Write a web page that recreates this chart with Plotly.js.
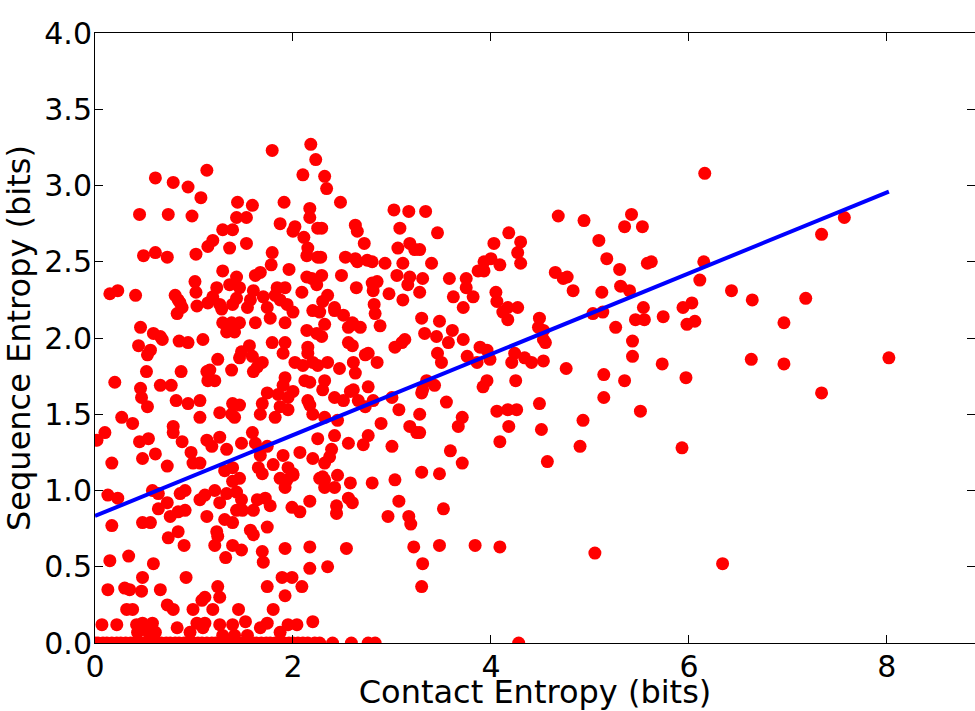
<!DOCTYPE html>
<html>
<head>
<meta charset="utf-8">
<script src="https://cdn.plot.ly/plotly-3.0.1.min.js"></script>
<style>html,body{margin:0;padding:0;background:#fff;}#chart{width:975px;height:711px;}</style>
</head>
<body>
<div id="chart"></div>
<script>
// Contact entropy (x) / sequence entropy (y), one pair per residue
const contactEntropy = [
6.16,4.68,4.94,5.42,5.35,5.53,5.09,5.17,5.58,5.62,5.30,6.15,6.11,4.65,4.73,4.77,4.83,5.12,5.31,5.40,7.57,7.34,6.43,6.64,7.18,6.96,4.49,4.53,5.03,5.13,5.54,5.46,5.55,5.74,5.94,6.03,5.98,6.06,5.26,4.53,4.55,5.43,4.53,4.76,5.43,5.73,6.63,6.96,8.02,5.14,5.35,5.97,7.34,5.14,4.49,5.51,4.93,4.51,4.90,5.93,4.57,5.05,6.34,
3.34,3.46,3.28,4.18,4.03,4.30,3.93,4.00,4.27,4.09,4.30,3.87,3.93,3.40,3.31,3.58,3.75,3.75,3.28,3.62,3.82,4.05,4.06,3.72,4.17,4.27,
4.12,4.17,4.48,3.30,3.48,3.33,3.45,3.57,3.61,3.72,3.89,3.96,3.46,3.50,3.76,3.86,3.99,4.24,4.21,4.34,4.41,3.35,3.31,3.43,3.96,3.92,4.25,3.55,3.28,3.71,3.67,4.06,4.17,4.26,4.18,3.28,4.09,3.59,3.71,3.30,3.48,
3.52,3.48,3.84,4.09,
2.45,2.32,2.42,2.32,2.58,2.80,3.03,2.17,2.44,2.56,2.60,2.44,3.07,2.96,3.17,3.19,2.17,2.54,3.22,2.17,2.35,3.31,3.30,2.20,
1.94,2.00,1.87,1.92,2.27,1.46,1.39,1.69,1.31,1.11,1.21,1.33,1.43,1.26,1.48,1.43,1.49,1.60,1.64,1.72,1.77,1.99,2.07,1.13,1.31,1.39,1.23,1.24,1.57,1.60,1.74,1.21,1.39,1.48,1.32,1.69,1.70,1.92,2.09,1.89,1.99,1.74,1.92,1.24,1.26,1.11,1.19,1.45,1.80,1.11,1.26,1.39,1.52,1.67,1.74,1.87,1.95,2.04,1.29,1.54,1.41,
0.13,0.23,0.58,0.64,0.86,0.91,0.73,0.64,0.76,0.84,0.91,1.06,0.17,0.48,0.56,0.74,0.84,0.90,0.15,0.34,0.59,0.48,0.92,0.13,0.30,0.35,0.47,0.66,0.32,0.38,0.73,0.79,0.99,1.08,0.07,0.22,0.42,0.48,0.58,0.43,0.54,0.61,0.83,0.96,1.03,1.09,
0.83,0.88,1.03,0.84,0.46,0.59,0.66,0.68,0.44,0.56,0.53,0.85,0.94,1.09,0.52,0.20,0.87,1.13,1.14,0.66,0.77,0.46,0.47,0.53,0.82,0.94,1.06,1.06,0.27,0.38,0.02,0.10,0.79,0.79,0.88,0.45,0.54,1.13,0.48,0.61,0.17,0.73,0.97,0.99,1.06,
0.61,0.79,0.94,1.07,1.13,0.45,0.74,0.98,0.49,0.61,0.73,1.02,1.14,0.15,0.23,0.41,0.81,0.86,1.01,1.02,1.14,
1.79,2.18,2.23,2.10,1.44,1.59,1.91,2.17,2.17,1.43,1.53,1.87,2.02,2.00,2.11,2.25,1.29,1.39,1.19,1.36,1.53,1.79,1.78,2.15,2.14,2.25,1.96,1.29,1.62,1.67,2.14,2.19,1.43,1.23,1.36,1.46,1.60,1.84,1.92,2.09,1.19,1.43,1.57,1.70,1.82,1.87,1.26,1.39,1.54,1.74,1.94,
2.32,2.34,2.48,2.29,2.63,2.65,3.02,3.17,3.08,3.18,3.23,3.06,2.72,2.28,2.53,2.63,2.65,2.75,2.80,2.93,3.11,2.29,2.24,2.49,3.05,3.18,3.16,2.64,2.80,2.85,2.81,2.97,3.11,2.35,2.30,2.42,2.82,
1.28,2.00,2.20,1.29,1.38,1.46,1.33,1.41,1.62,1.77,1.92,1.56,1.48,1.79,1.92,1.90,2.14,2.15,2.15,1.24,1.38,1.16,1.21,1.46,1.59,1.64,1.69,1.60,2.02,2.10,2.20,1.92,1.90,2.12,1.39,1.46,1.26,1.38,1.41,1.69,1.74,1.85,1.95,2.00,1.87,1.95,2.15,2.17,1.67,1.82,1.26,1.18,1.33,1.48,1.59,1.62,1.74,1.90,2.07,2.20,1.39,1.67,1.65,1.80,1.95,2.00,
2.27,2.42,2.51,2.60,2.68,2.83,2.88,2.32,2.24,2.29,2.56,2.61,2.56,2.60,3.03,3.10,3.13,2.25,2.35,2.47,2.61,2.63,2.73,2.76,2.85,2.17,2.32,2.30,2.76,2.42,2.51,2.58,2.61,2.66,2.73,2.81,3.00,3.30,2.20,2.32,2.45,3.07,2.89,3.18,3.25,2.25,2.42,2.56,2.76,2.71,3.00,2.39,2.37,2.32,2.30
];
const sequenceEntropy = [
3.08,2.80,2.77,2.81,2.73,2.73,2.64,2.52,2.49,2.50,2.45,2.50,2.38,2.43,2.39,2.40,2.31,2.30,2.34,2.31,2.79,2.68,2.31,2.25,2.26,2.10,2.13,2.05,2.16,2.17,2.20,2.12,2.12,2.14,2.20,2.23,2.09,2.11,2.07,1.99,1.97,1.98,1.85,1.80,1.88,1.83,1.86,1.83,1.87,1.76,1.72,1.74,1.64,1.61,1.57,1.52,1.46,1.40,1.29,1.28,1.19,0.59,0.52,
2.83,2.69,2.58,2.69,2.62,2.63,2.50,2.52,2.56,2.48,2.49,2.44,2.44,2.49,2.39,2.39,2.39,2.33,2.30,2.27,2.27,2.30,2.24,2.20,2.20,2.20,
2.17,2.12,2.07,2.13,2.11,2.03,2.01,1.97,2.05,1.99,1.94,1.92,1.90,1.84,1.88,1.84,1.86,1.90,1.84,1.87,1.84,1.72,1.66,1.69,1.72,1.68,1.72,1.58,1.50,1.48,1.42,1.52,1.53,1.53,1.42,1.38,1.32,1.26,1.18,1.12,1.11,
0.88,0.64,0.64,0.63,
1.10,1.07,1.02,1.02,1.05,1.05,1.07,0.93,0.90,0.95,0.92,0.85,0.93,0.83,0.83,0.78,0.63,0.62,0.63,0.49,0.50,0.52,0.37,0.14,
1.07,1.10,1.08,1.02,1.08,1.08,1.06,1.11,1.13,0.97,1.00,0.98,0.99,0.92,0.94,0.87,0.87,0.87,0.94,0.95,0.90,0.89,0.86,0.83,0.81,0.79,0.73,0.70,0.74,0.71,0.76,0.64,0.64,0.61,0.56,0.60,0.53,0.62,0.37,0.43,0.43,0.37,0.31,0.37,0.30,0.30,0.22,0.22,0.22,0.13,0.12,0.12,0.14,0.10,0.13,0.07,0.12,0.12,0.05,0.05,0.05,
0.97,0.95,1.00,0.98,0.98,1.00,0.92,0.88,0.83,0.86,0.87,0.94,0.77,0.79,0.79,0.69,0.73,0.64,0.54,0.57,0.52,0.43,0.43,0.35,0.36,0.35,0.34,0.35,0.22,0.22,0.25,0.22,0.22,0.28,0.12,0.12,0.12,0.13,0.13,0.07,0.07,0.07,0.10,0.07,0.13,0.10,
2.16,2.20,2.21,2.25,2.07,2.03,2.01,1.99,1.95,1.92,1.89,1.98,1.97,1.99,1.78,1.71,1.78,1.78,1.72,1.69,1.69,1.67,1.61,1.55,1.59,1.57,1.59,1.48,1.48,1.44,1.33,1.38,1.42,1.38,1.32,1.32,1.34,1.33,1.21,1.24,1.18,1.16,1.25,1.18,1.18,
3.05,3.02,2.99,2.92,3.10,2.81,2.81,2.80,2.54,2.56,2.53,2.55,2.60,2.29,2.31,2.28,2.28,2.23,2.37,2.30,2.23,
3.23,3.27,3.17,3.07,2.89,2.87,2.89,2.85,2.79,2.79,2.79,2.75,2.73,2.70,2.66,2.72,2.71,2.71,2.64,2.59,2.62,2.56,2.48,2.59,2.54,2.53,2.45,2.44,2.41,2.43,2.40,2.39,2.40,2.33,2.35,2.33,2.31,2.33,2.33,2.30,2.27,2.26,2.25,2.27,2.28,2.25,2.22,2.22,2.20,2.20,2.22,
3.06,2.98,2.89,2.72,2.74,2.70,2.84,2.83,2.72,2.62,2.58,2.59,2.62,2.53,2.53,2.52,2.50,2.51,2.50,2.49,2.49,2.41,2.35,2.41,2.41,2.40,2.35,2.33,2.36,2.37,2.31,2.29,2.25,2.28,2.24,2.20,2.22,
2.19,2.17,2.18,2.10,2.10,2.10,2.04,2.04,2.10,2.13,2.10,1.95,1.91,1.97,1.97,1.90,2.05,1.94,1.90,1.86,1.79,1.79,1.72,1.87,1.88,1.81,1.84,1.78,1.84,1.82,1.84,1.74,1.69,1.72,1.57,1.56,1.51,1.50,1.48,1.57,1.64,1.63,1.61,1.65,1.55,1.53,1.59,1.56,1.50,1.48,1.35,1.29,1.27,1.31,1.38,1.31,1.29,1.23,1.25,1.21,1.15,1.23,1.15,1.17,1.15,1.11,
2.17,2.18,2.15,2.10,2.07,2.16,2.08,2.09,2.03,2.01,2.07,2.09,1.97,1.95,1.94,1.97,1.99,1.82,1.84,1.80,1.84,1.77,1.89,1.90,1.84,1.71,1.72,1.66,1.68,1.61,1.59,1.65,1.66,1.59,1.55,1.59,1.61,1.64,1.50,1.48,1.46,1.53,1.44,1.42,1.38,1.34,1.36,1.31,1.36,1.30,1.29,1.27,1.22,1.18,1.09
];
// Residues with zero sequence entropy
const zeroEntropyContact = [0,0.03,0.08,0.12,0.17,0.22,0.26,0.31,0.36,0.40,0.45,0.49,0.53,0.58,0.62,0.67,0.72,0.76,0.81,0.85,0.90,0.95,0.99,1.04,1.08,1.13,1.18,1.22,1.27,1.31,1.36,1.41,1.45,1.50,1.54,1.59,1.63,1.68,1.73,1.77,1.82,1.86,1.91,1.96,2.00,2.05,2.10,2.15,2.22,2.27,2.40,2.59,2.76,2.83,4.28];
const zeroEntropySeq = zeroEntropyContact.map(() => 0);
// Least-squares fit line endpoints
const fitX = [0, 8.02];
const fitY = [0.833, 2.96];

const xTicks = [0, 2, 4, 6, 8];
const yTicks = [0, 0.5, 1.0, 1.5, 2.0, 2.5, 3.0, 3.5, 4.0];

const font = 'DejaVu Sans, sans-serif';
const traces = [
  {x: contactEntropy.concat(zeroEntropyContact), y: sequenceEntropy.concat(zeroEntropySeq),
   type: 'scatter', mode: 'markers', marker: {color: '#ff0000', size: 13, line: {width: 0}},
   cliponaxis: true, hoverinfo: 'x+y'},
  {x: fitX, y: fitY, type: 'scatter', mode: 'lines', line: {color: '#0000ff', width: 4}}
];
const axisCommon = {
  showgrid: false, zeroline: false, showline: true, linecolor: '#000', linewidth: 1,
  mirror: 'allticks', ticks: 'inside', ticklen: 8, tickwidth: 1, tickcolor: '#000',
  tickfont: {family: font, size: 30, color: '#000'}
};
const layout = {
  width: 975, height: 711,
  margin: {l: 95, r: 0, t: 33, b: 68, pad: 0},
  paper_bgcolor: '#fff', plot_bgcolor: '#fff',
  showlegend: false,
  xaxis: Object.assign({}, axisCommon, {
    range: [0, 8.89], tickvals: xTicks, ticktext: xTicks.map(String),
    ticklabelstandoff: -3,
    title: {text: 'Contact Entropy (bits)', font: {family: font, size: 32, color: '#000'}, standoff: 0}
  }),
  yaxis: Object.assign({}, axisCommon, {
    range: [0, 4], tickvals: yTicks, ticktext: yTicks.map(v => v.toFixed(1)),
    ticklabelstandoff: -4,
    title: {text: 'Sequence Entropy (bits)', font: {family: font, size: 32, color: '#000'}, standoff: 4}
  })
};
Plotly.newPlot('chart', traces, layout, {displayModeBar: false, staticPlot: true});
</script>
</body>
</html>
